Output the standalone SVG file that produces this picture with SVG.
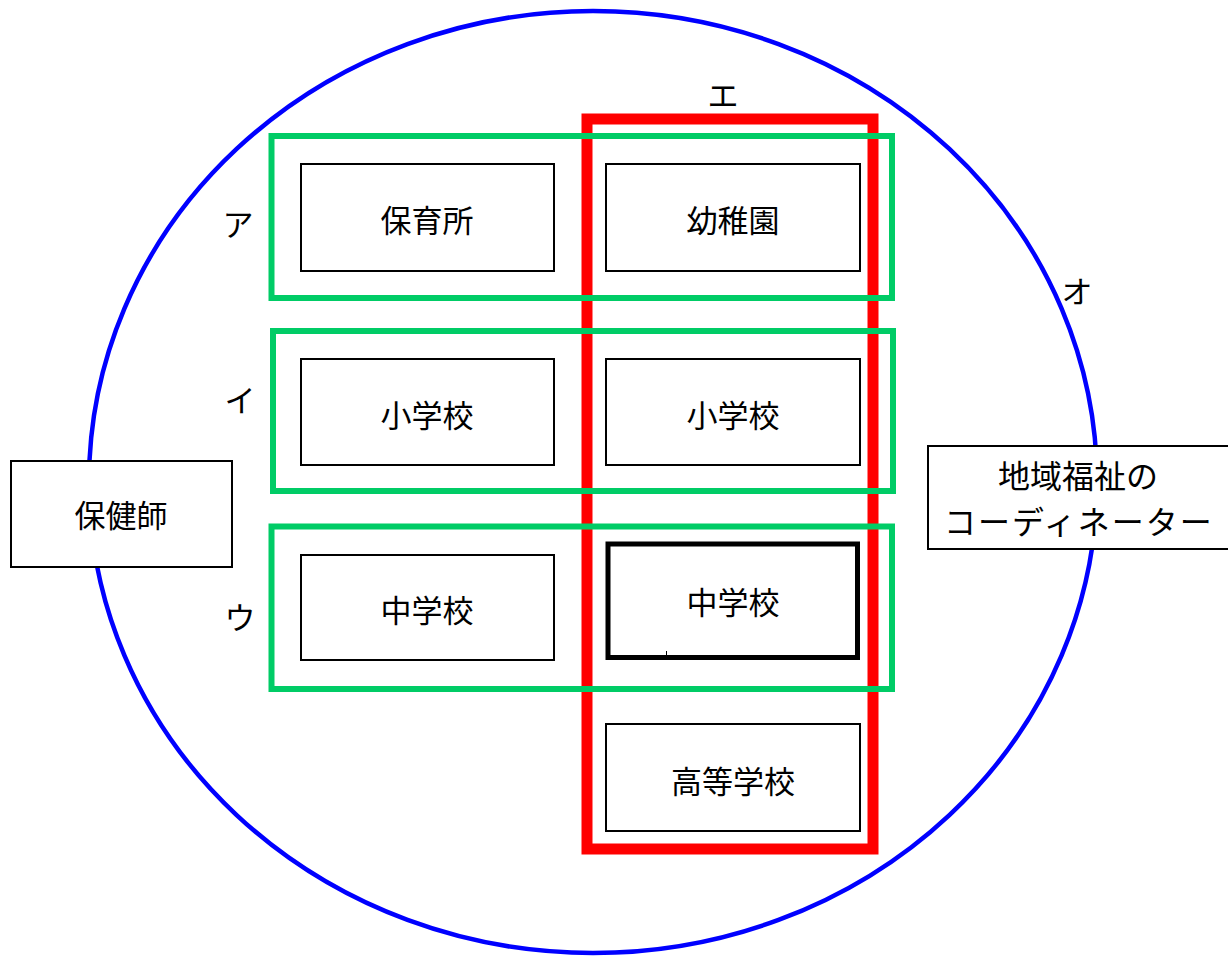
<svg xmlns="http://www.w3.org/2000/svg" width="1228" height="957" viewBox="0 0 1228 957">
<style>
.t{font-family:"Noto Sans CJK JP","Noto Sans",sans-serif;font-size:31px;fill:#000;text-anchor:middle;dominant-baseline:central}
.c{font-size:32px}
.box{fill:#fff;stroke:#000;stroke-width:2}
.grp{fill:none;stroke:#00CC66;stroke-width:6}
</style>
<rect width="1228" height="957" fill="#fff"/>
<ellipse cx="593" cy="482" rx="504" ry="471" fill="none" stroke="#0000FF" stroke-width="4.5"/>
<g id="connectors"></g>
<g id="group-e"><rect x="587" y="119" width="286" height="730" fill="none" stroke="#FF0000" stroke-width="11"/></g>
<g id="group-a"><rect x="271.5" y="136" width="620.5" height="162" class="grp"/></g>
<g id="group-i"><rect x="273" y="331" width="620" height="160" class="grp"/></g>
<g id="group-u"><rect x="271.5" y="526.5" width="620.5" height="162.5" class="grp"/></g>
<g id="hoikusho"><rect x="301" y="164" width="253" height="107" class="box"/><text class="t" x="427" y="218">保育所</text></g>
<g id="youchien"><rect x="606" y="164" width="254" height="107" class="box"/><text class="t" x="733" y="218">幼稚園</text></g>
<g id="shogakko1"><rect x="301" y="359" width="253" height="106" class="box"/><text class="t" x="427" y="413">小学校</text></g>
<g id="shogakko2"><rect x="606" y="359" width="254" height="106" class="box"/><text class="t" x="733" y="413">小学校</text></g>
<g id="chugakko1"><rect x="301" y="555" width="253" height="105" class="box"/><text class="t" x="427" y="608">中学校</text></g>
<g id="chugakko2"><rect x="608" y="544" width="249.5" height="113.5" fill="#fff" stroke="#000" stroke-width="5"/><text class="t" x="733" y="600">中学校</text><line x1="666.5" y1="651" x2="666.5" y2="655" stroke="#000" stroke-width="1"/></g>
<g id="kotogakko"><rect x="606" y="724" width="254" height="107" class="box"/><text class="t" x="733" y="779">高等学校</text></g>
<g id="hokenshi"><rect x="11" y="461" width="221" height="106" class="box"/><text class="t" x="121" y="513">保健師</text></g>
<g id="coordinator"><rect x="928" y="446" width="302" height="103" class="box"/><text class="t c" x="1078" y="474">地域福祉の</text><text class="t c" x="1079" y="520" letter-spacing="2">コーディネーター</text></g>
<g id="labels">
<text class="t" x="238" y="222">ア</text>
<text class="t" x="240" y="398">イ</text>
<text class="t" x="240" y="615">ウ</text>
<text class="t" x="723" y="93">エ</text>
<text class="t" x="1077" y="289">オ</text>
</g>
</svg>
